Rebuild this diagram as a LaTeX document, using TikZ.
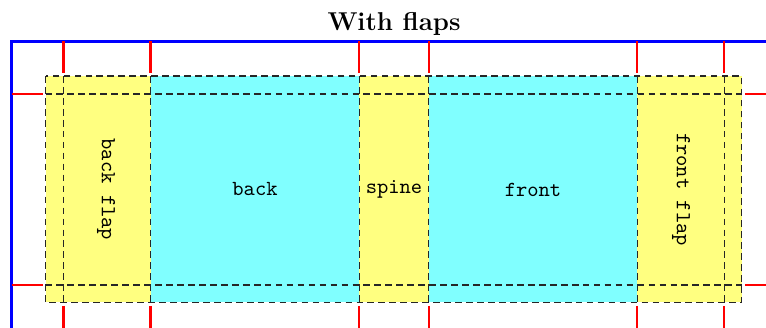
\documentclass[tikz,border=0pt]{standalone}
\definecolor{flapyellow}{RGB}{255,255,128}
\definecolor{coverblue}{RGB}{128,255,255}
\begin{document}
\begin{tikzpicture}[x=0.4651pt,y=-0.4651pt,
  pagecorner/.style={draw=blue,line width=1.2pt},
  cropmark/.style={draw=red,line width=0.95pt},
  foldline/.style={draw=black!85,dash pattern=on 3.1pt off 2pt,line width=0.55pt},
  flapfill/.style={fill=flapyellow},
  coverfill/.style={fill=coverblue},
  lbl/.style={font=\ttfamily,inner sep=0pt},
  ttl/.style={font=\large\bfseries,inner sep=0pt,anchor=base}]
\useasboundingbox (0,0) rectangle (766,328);
% fills
\fill[flapfill]  (45.5,76) rectangle (150.5,302.3);
\fill[coverfill] (150.5,76) rectangle (359.3,302.3);
\fill[flapfill]  (359.3,76) rectangle (428.7,302.3);
\fill[coverfill] (428.7,76) rectangle (637.3,302.3);
\fill[flapfill]  (637.3,76) rectangle (741.7,302.3);
% page corner
\draw[pagecorner] (766,41.5) -- (11.5,41.5) -- (11.5,328);
% crop marks
\foreach \xx in {63.5,150.5,359.3,428.7,637.3,724.3}{
  \draw[cropmark] (\xx,41.5) -- (\xx,73);
  \draw[cropmark] (\xx,306) -- (\xx,328);
}
\foreach \yy in {94,285}{
  \draw[cropmark] (11.5,\yy) -- (43,\yy);
  \draw[cropmark] (745,\yy) -- (766,\yy);
}
% fold / trim lines
\draw[foldline] (45.5,76) rectangle (741.7,302.3);
\draw[foldline] (45.5,94) -- (741.7,94);
\draw[foldline] (45.5,285) -- (741.7,285);
\foreach \xx in {63.5,150.5,359.3,428.7,637.3,724.3}{
  \draw[foldline] (\xx,76) -- (\xx,302.3);
}
% labels
\node[ttl] (title) at (394,31) {With flaps};
\node[lbl,rotate=-90] (backflap) at (106,189.5) {back flap};
\node[lbl] (back) at (255,189.5) {back};
\node[lbl] (spine) at (394,189.5) {spine};
\node[lbl] (front) at (533,189.5) {front};
\node[lbl,rotate=-90] (frontflap) at (681,189.5) {front flap};
\end{tikzpicture}
\end{document}
